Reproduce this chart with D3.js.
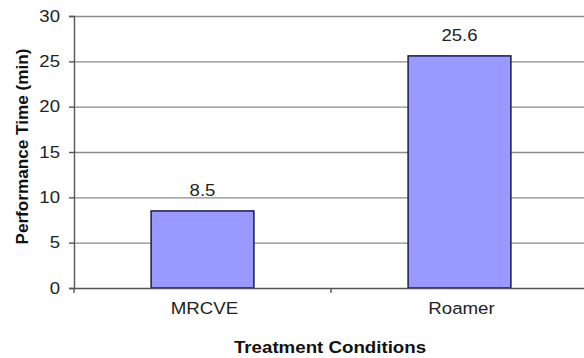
<!DOCTYPE html>
<html><head><meta charset="utf-8">
<script src="https://cdn.jsdelivr.net/npm/d3@7"></script>
<style>body{margin:0;background:#fff;}svg{display:block;}</style>
</head><body>
<script>
const categories = ["MRCVE", "Roamer"];
const values = [8.5, 25.6];
const valueLabels = ["8.5", "25.6"];
const yTicks = [0, 5, 10, 15, 20, 25, 30];

const W = 584, H = 358;
const mLeft = 74, mRight = 588, mTop = 16, mBottom = 288;
const svg = d3.select("body").append("svg").attr("width", W).attr("height", H);
const font = "'Liberation Sans', Arial, sans-serif";
const SX = 1.16; // horizontal stretch of the reference text

const x = d3.scaleBand().domain(categories).range([mLeft, mRight]).paddingInner(0.6).paddingOuter(0.3);
const y = d3.scaleLinear().domain([0, 30]).range([mBottom, mTop]);

// gridlines
svg.append("g").selectAll("line").data(yTicks.filter(d => d > 0)).join("line")
  .attr("x1", mLeft).attr("x2", mRight)
  .attr("y1", d => y(d) + 0.5).attr("y2", d => y(d) + 0.5)
  .attr("stroke", "#8c8c8c").attr("stroke-width", 1.4);

// bars
svg.append("g").selectAll("rect").data(values).join("rect")
  .attr("x", (d, i) => x(categories[i]))
  .attr("y", d => y(d))
  .attr("width", x.bandwidth())
  .attr("height", d => mBottom - y(d))
  .attr("fill", "#9999ff").attr("stroke", "#1a1a4d").attr("stroke-width", 1.5);

// value labels
svg.append("g").selectAll("text").data(values).join("text")
  .attr("transform", (d, i) => `translate(${x(categories[i]) + x.bandwidth() / 2},${y(d) - 14.5}) scale(${SX},1)`)
  .attr("text-anchor", "middle").attr("font-family", font).attr("font-size", 16).attr("fill", "#222")
  .text((d, i) => valueLabels[i]);

// y axis
const yAxis = d3.axisLeft(y).tickValues(yTicks).tickSize(5).tickPadding(6);
const gy = svg.append("g").attr("transform", `translate(${mLeft},0)`).call(yAxis);
gy.select(".domain").attr("stroke", "#555").attr("stroke-width", 1.4);
gy.selectAll(".tick line").attr("stroke", "#555").attr("stroke-width", 1.4);
gy.selectAll("text").attr("x", null).attr("transform", `translate(-14,0) scale(${SX},1)`)
  .attr("font-family", font).attr("font-size", 16).attr("fill", "#222");

// x axis
const gx = svg.append("g").attr("transform", `translate(0,${mBottom})`);
gx.append("line").attr("x1", mLeft).attr("x2", mRight).attr("y1", 0.5).attr("y2", 0.5)
  .attr("stroke", "#555").attr("stroke-width", 1.4);
const step = x.step();
const boundaries = [mLeft, mLeft + step, mLeft + 2 * step];
gx.selectAll("line.t").data(boundaries).join("line").attr("class", "t")
  .attr("x1", d => d).attr("x2", d => d).attr("y1", 0).attr("y2", 5)
  .attr("stroke", "#555").attr("stroke-width", 1.4);
gx.selectAll("text").data(categories).join("text")
  .attr("transform", d => `translate(${x(d) + x.bandwidth() / 2 + 2},26) scale(1.1,1)`)
  .attr("text-anchor", "middle").attr("font-family", font).attr("font-size", 17).attr("fill", "#222")
  .text(d => d);

// titles
svg.append("text").attr("transform", `translate(330,353) scale(1.1,1)`).attr("text-anchor", "middle")
  .attr("font-family", font).attr("font-size", 17).attr("font-weight", "bold").attr("fill", "#111")
  .text("Treatment Conditions");
svg.append("text").attr("transform", `translate(28,146.5) rotate(-90) scale(1.04,1)`)
  .attr("text-anchor", "middle").attr("font-family", font).attr("font-size", 16.5).attr("font-weight", "bold").attr("fill", "#111")
  .text("Performance Time (min)");
</script>
</body></html>
